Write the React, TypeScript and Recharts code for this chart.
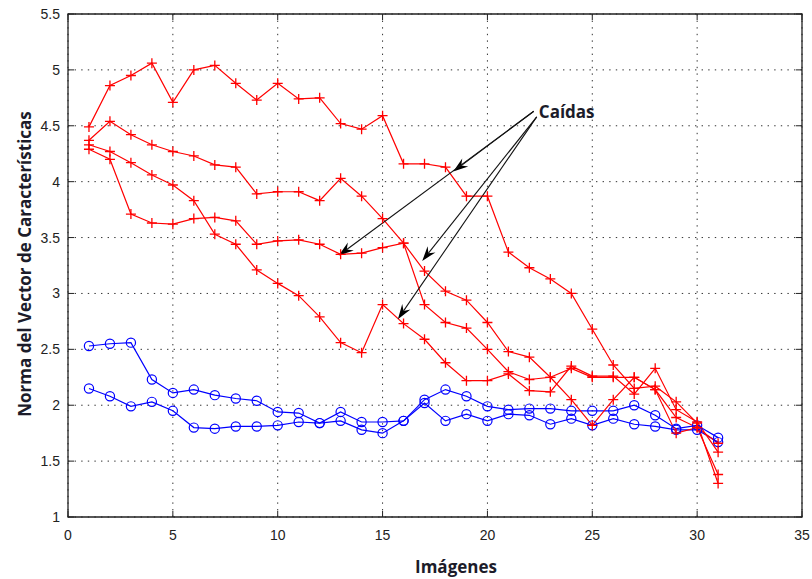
import React from 'react';
import {
  LineChart,
  Line,
  XAxis,
  YAxis,
  CartesianGrid,
  ReferenceArea,
  ReferenceLine,
  ReferenceDot,
} from 'recharts';

// número de imagen en el eje X
const imagenes = [
  1, 2, 3, 4, 5, 6, 7, 8, 9, 10, 11, 12, 13, 14, 15, 16,
  17, 18, 19, 20, 21, 22, 23, 24, 25, 26, 27, 28, 29, 30, 31,
];

// secuencias con caída (rojo, marcador +)
const caida1 = [
  4.49, 4.86, 4.95, 5.06, 4.71, 5.0, 5.04, 4.88, 4.73, 4.88, 4.74, 4.75, 4.52, 4.47, 4.59, 4.16,
  4.16, 4.13, 3.87, 3.87, 3.37, 3.23, 3.13, 3.0, 2.68, 2.36, 2.15, 2.17, 2.03, 1.84, 1.3,
];
const caida2 = [
  4.37, 4.54, 4.42, 4.33, 4.27, 4.23, 4.15, 4.13, 3.89, 3.91, 3.91, 3.83, 4.03, 3.87, 3.67, 3.45,
  3.2, 3.02, 2.94, 2.74, 2.48, 2.43, 2.25, 2.05, 1.82, 2.05, 2.25, 2.14, 1.89, 1.8, 1.38,
];
const caida3 = [
  4.33, 4.27, 4.17, 4.06, 3.97, 3.83, 3.53, 3.44, 3.21, 3.09, 2.98, 2.79, 2.56, 2.47, 2.9, 2.73,
  2.59, 2.38, 2.22, 2.22, 2.28, 2.13, 2.12, 2.35, 2.26, 2.26, 2.1, 2.33, 1.96, 1.85, 1.58,
];
const caida4 = [
  4.29, 4.2, 3.71, 3.63, 3.62, 3.67, 3.68, 3.65, 3.44, 3.47, 3.48, 3.44, 3.35, 3.36, 3.41, 3.45,
  2.9, 2.74, 2.69, 2.5, 2.3, 2.23, 2.25, 2.33, 2.25, 2.25, 2.25, 2.14, 1.75, 1.8, 1.66,
];

// secuencias sin caída (azul, marcador o)
const normal1 = [
  2.53, 2.55, 2.56, 2.23, 2.11, 2.14, 2.09, 2.06, 2.04, 1.94, 1.93, 1.84, 1.94, 1.85, 1.85, 1.86,
  2.05, 2.14, 2.08, 1.99, 1.96, 1.97, 1.97, 1.95, 1.95, 1.95, 2.0, 1.91, 1.79, 1.82, 1.71,
];
const normal2 = [
  2.15, 2.08, 1.99, 2.03, 1.95, 1.8, 1.79, 1.81, 1.81, 1.82, 1.85, 1.84, 1.86, 1.78, 1.75, 1.86,
  2.02, 1.86, 1.92, 1.86, 1.92, 1.91, 1.83, 1.88, 1.82, 1.88, 1.83, 1.81, 1.78, 1.78, 1.67,
];

const xTicks = [0, 5, 10, 15, 20, 25, 30, 35];
const yTicks = [1, 1.5, 2, 2.5, 3, 3.5, 4, 4.5, 5, 5.5];

// flechas de la anotación "Caídas": [origen, punta]
const flechas = [
  [{ x: 22.21, y: 4.63 }, { x: 18.37, y: 4.09 }],
  [{ x: 22.21, y: 4.63 }, { x: 12.91, y: 3.34 }],
  [{ x: 22.35, y: 4.58 }, { x: 16.89, y: 3.29 }],
  [{ x: 22.35, y: 4.58 }, { x: 15.73, y: 2.77 }],
];

const data = imagenes.map((x, i) => ({
  x,
  c1: caida1[i],
  c2: caida2[i],
  c3: caida3[i],
  c4: caida4[i],
  n1: normal1[i],
  n2: normal2[i],
}));

const W = 812;
const H = 579;
const PLOT = { left: 68, right: 802, top: 14, bottom: 517 };
const TICK = 6;
const tickFont = { fontFamily: '"Liberation Sans", Arial, sans-serif', fontSize: 14, fill: '#222' };
const titleFont = '"Open Sans", Lato, sans-serif';

const Cruz = (props: any) => {
  const { cx, cy } = props;
  if (cx == null || cy == null) return null;
  return (
    <path
      d={`M${cx - 5},${cy}H${cx + 5}M${cx},${cy - 5}V${cy + 5}`}
      stroke="#ff0000"
      strokeWidth={1.3}
      fill="none"
    />
  );
};

const Circulo = (props: any) => {
  const { cx, cy } = props;
  if (cx == null || cy == null) return null;
  return <circle cx={cx} cy={cy} r={4.6} stroke="#0000ff" strokeWidth={1.2} fill="none" />;
};

const XTick = ({ x, payload }: any) => (
  <g>
    <line x1={x} x2={x} y1={PLOT.bottom} y2={PLOT.bottom - TICK} stroke="#222" />
    <line x1={x} x2={x} y1={PLOT.top} y2={PLOT.top + TICK} stroke="#222" />
    <text x={x} y={PLOT.bottom + 23} textAnchor="middle" {...tickFont}>
      {payload.value}
    </text>
  </g>
);

const YTick = ({ y, payload }: any) => (
  <g>
    <line x1={PLOT.left} x2={PLOT.left + TICK} y1={y} y2={y} stroke="#222" />
    <line x1={PLOT.right} x2={PLOT.right - TICK} y1={y} y2={y} stroke="#222" />
    <text x={PLOT.left - 8} y={y + 5} textAnchor="end" {...tickFont}>
      {payload.value}
    </text>
  </g>
);

// línea con punta de flecha rellena
const Flecha = (props: any) => {
  const { x1, y1, x2, y2 } = props;
  const ang = Math.atan2(y2 - y1, x2 - x1);
  const len = 15;
  const half = 5;
  const notch = 10;
  const cos = Math.cos(ang);
  const sin = Math.sin(ang);
  const bx = x2 - len * cos;
  const by = y2 - len * sin;
  const nx = x2 - notch * cos;
  const ny = y2 - notch * sin;
  const head = [
    `${x2},${y2}`,
    `${bx - half * sin},${by + half * cos}`,
    `${nx},${ny}`,
    `${bx + half * sin},${by - half * cos}`,
  ].join(' ');
  return (
    <g>
      <line x1={x1} y1={y1} x2={nx} y2={ny} stroke="#111" strokeWidth={1.1} />
      <polygon points={head} fill="#000" />
    </g>
  );
};

const Etiqueta = (props: any) => (
  <text
    x={props.cx}
    y={props.cy + 6}
    fontFamily={titleFont}
    fontWeight={700}
    fontSize={17}
    fill="#1c1c2a"
  >
    Caídas
  </text>
);

export default function App() {
  return (
    <div style={{ position: 'absolute', left: 0, top: 0, width: W, height: H, background: '#fff' }}>
      <LineChart
        width={W}
        height={H}
        data={data}
        margin={{ top: PLOT.top, right: W - PLOT.right, left: PLOT.left - 40, bottom: H - PLOT.bottom - 30 }}
      >
        <CartesianGrid stroke="#333" strokeDasharray="1.4 5.2" strokeWidth={1} />
        <XAxis
          type="number"
          dataKey="x"
          domain={[0, 35]}
          ticks={xTicks}
          axisLine={false}
          tickLine={false}
          tick={<XTick />}
          height={30}
          interval={0}
        />
        <YAxis
          type="number"
          domain={[1, 5.5]}
          ticks={yTicks}
          axisLine={false}
          tickLine={false}
          tick={<YTick />}
          width={40}
          interval={0}
        />
        <ReferenceArea x1={0} x2={35} y1={1} y2={5.5} fill="none" fillOpacity={0} stroke="#222" strokeWidth={1.3} />

        <Line dataKey="n1" stroke="#0000ff" strokeWidth={1.2} dot={Circulo} isAnimationActive={false} />
        <Line dataKey="n2" stroke="#0000ff" strokeWidth={1.2} dot={Circulo} isAnimationActive={false} />
        <Line dataKey="c1" stroke="#ff0000" strokeWidth={1.2} dot={Cruz} isAnimationActive={false} />
        <Line dataKey="c2" stroke="#ff0000" strokeWidth={1.2} dot={Cruz} isAnimationActive={false} />
        <Line dataKey="c3" stroke="#ff0000" strokeWidth={1.2} dot={Cruz} isAnimationActive={false} />
        <Line dataKey="c4" stroke="#ff0000" strokeWidth={1.2} dot={Cruz} isAnimationActive={false} />

        {flechas.map((seg, i) => (
          <ReferenceLine key={i} segment={seg} shape={Flecha} />
        ))}
        <ReferenceDot x={22.45} y={4.62} r={0} shape={Etiqueta} />
      </LineChart>

      <div
        style={{
          position: 'absolute',
          left: 24,
          top: 264,
          transform: 'translate(-50%, -50%) rotate(-90deg)',
          whiteSpace: 'nowrap',
          fontFamily: titleFont,
          fontWeight: 700,
          fontSize: 17,
          color: '#1c1c2a',
        }}
      >
        Norma del Vector de Características
      </div>
      <div
        style={{
          position: 'absolute',
          left: 456,
          top: 566,
          transform: 'translate(-50%, -50%)',
          whiteSpace: 'nowrap',
          fontFamily: titleFont,
          fontWeight: 700,
          fontSize: 17,
          color: '#1c1c2a',
        }}
      >
        Imágenes
      </div>
    </div>
  );
}
